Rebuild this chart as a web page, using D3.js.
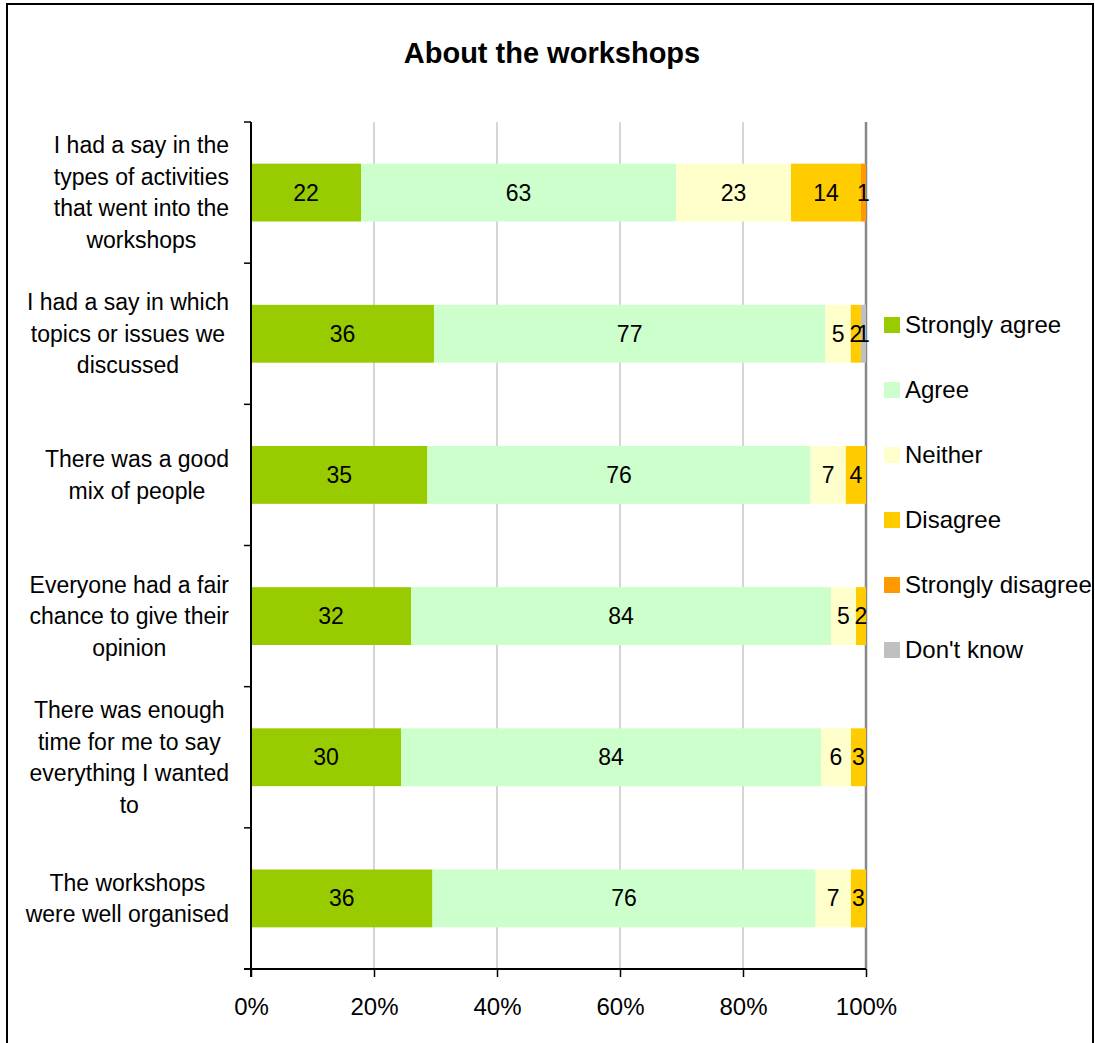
<!DOCTYPE html>
<html>
<head>
<meta charset="utf-8">
<script src="https://cdn.jsdelivr.net/npm/d3@7"></script>
<style>
  body { margin: 0; background: #fff; }
  text { font-family: "Liberation Sans", Arial, sans-serif; }
</style>
</head>
<body>
<svg id="chart" width="1095" height="1043"></svg>
<script>
const categories = [
   "I had a say in the|types of activities|that went into the|workshops",
   "I had a say in which|topics or issues we|discussed",
   "There was a good|mix of people",
   "Everyone had a fair|chance to give their|opinion",
   "There was enough|time for me to say|everything I wanted|to",
   "The workshops|were well organised"
];
const seriesNames = ["Strongly agree", "Agree", "Neither", "Disagree", "Strongly disagree", "Don't know"];
const stronglyAgree = [22, 36, 35, 32, 30, 36];
const agree = [63, 77, 76, 84, 84, 76];
const neither = [23, 5, 7, 5, 6, 7];
const disagree = [14, 2, 4, 2, 3, 3];
const stronglyDisagree = [1, 0, 0, 0, 0, 0];
const dontKnow = [0, 1, 0, 0, 0, 0];
const tickValues = [0, 0.2, 0.4, 0.6, 0.8, 1];
const colors = ["#99CC00", "#CCFFCC", "#FFFFCC", "#FFCC00", "#FF9900", "#C0C0C0"];

const seriesValues = [stronglyAgree, agree, neither, disagree, stronglyDisagree, dontKnow];
const rows = categories.map((c, i) => {
   const r = { cat: c };
   seriesNames.forEach((s, j) => (r[s] = seriesValues[j][i]));
   return r;
});

const plotLeft = 251, plotRight = 866, plotTop = 122, plotBottom = 969;
const fontSize = 23;
const svg = d3.select("#chart");

// outer frame
svg.append("rect")
   .attr("x", 7).attr("y", 4)
   .attr("width", 1086).attr("height", 1050)
   .attr("fill", "none").attr("stroke", "#000").attr("stroke-width", 2);

svg.append("text")
   .attr("x", 552).attr("y", 63)
   .attr("text-anchor", "middle")
   .attr("font-size", 29).attr("font-weight", "bold")
   .text("About the workshops");

const x = d3.scaleLinear().domain([0, 1]).range([plotLeft, plotRight]);
const y = d3.scaleBand().domain(categories).range([plotTop, plotBottom]).paddingInner(0.59).paddingOuter(0.295);
const yAxisBands = d3.scaleBand().domain(categories).range([plotTop, plotBottom]);

// gridlines
svg.append("g")
   .selectAll("line")
   .data(tickValues.slice(1))
   .enter()
   .append("line")
   .attr("x1", (d) => x(d)).attr("x2", (d) => x(d))
   .attr("y1", plotTop).attr("y2", plotBottom)
   .attr("stroke", (d) => (d === 1 ? "#888" : "#c0c0c0"))
   .attr("stroke-width", (d) => (d === 1 ? 2.5 : 1.3));

// stacked bars
const stack = d3.stack().keys(seriesNames).offset(d3.stackOffsetExpand);
const stacked = stack(rows);

const layers = svg.append("g")
   .selectAll("g")
   .data(stacked)
   .enter()
   .append("g")
   .attr("fill", (d, i) => colors[i]);

layers.selectAll("rect")
   .data((d) => d.filter((s) => s.data[d.key] > 0))
   .enter()
   .append("rect")
   .attr("x", (d) => x(d[0]))
   .attr("width", (d) => x(d[1]) - x(d[0]))
   .attr("y", (d) => y(d.data.cat))
   .attr("height", y.bandwidth());

layers.selectAll("text")
   .data((d) => d.filter((s) => s.data[d.key] > 0).map((s) => ({ s, key: d.key })))
   .enter()
   .append("text")
   .attr("x", (d) => (x(d.s[0]) + x(d.s[1])) / 2)
   .attr("y", (d) => y(d.s.data.cat) + y.bandwidth() / 2 + 8)
   .attr("text-anchor", "middle")
   .attr("font-size", fontSize)
   .attr("fill", "#000")
   .text((d) => d.s.data[d.key]);

// x axis
const xAxis = d3.axisBottom(x).tickValues(tickValues).tickFormat(d3.format(".0%")).tickSize(8).tickSizeOuter(0);
const gx = svg.append("g").attr("transform", `translate(0, ${plotBottom})`).call(xAxis);
gx.select(".domain").attr("stroke", "#000").attr("stroke-width", 2).attr("d", `M${plotLeft - 7},0H${plotRight}`);
gx.selectAll(".tick line").attr("stroke", "#000").attr("stroke-width", 1.5);
gx.selectAll(".tick text")
   .attr("font-size", fontSize + 1).attr("font-family", "Liberation Sans, Arial, sans-serif")
   .attr("fill", "#000").attr("y", 29);

// y axis line and ticks
const gy = svg.append("g");
gy.append("line")
   .attr("x1", plotLeft).attr("x2", plotLeft)
   .attr("y1", plotTop).attr("y2", plotBottom + 8)
   .attr("stroke", "#000").attr("stroke-width", 2);
gy.selectAll("line.tk")
   .data(categories)
   .enter()
   .append("line")
   .attr("class", "tk")
   .attr("x1", plotLeft - 7).attr("x2", plotLeft)
   .attr("y1", (d) => yAxisBands(d)).attr("y2", (d) => yAxisBands(d))
   .attr("stroke", "#000").attr("stroke-width", 1.5);

// category labels: lines centred on each other, longest line ends at 229
const lineH = 31.5;
gy.selectAll("text")
   .data(categories)
   .enter()
   .append("text")
   .attr("text-anchor", "middle")
   .attr("font-size", fontSize)
   .each(function (d) {
      const lines = d.split("|");
      const cy = y(d) + y.bandwidth() / 2;
      const start = cy - ((lines.length - 1) * lineH) / 2 + 8;
      const t = d3.select(this);
      const spans = t.selectAll("tspan")
         .data(lines)
         .enter()
         .append("tspan")
         .attr("y", (l, i) => start + i * lineH)
         .text((l) => l);
      const maxW = d3.max(spans.nodes(), (n) => n.getComputedTextLength());
      spans.attr("x", 229 - maxW / 2);
   });

// legend
const legend = svg.append("g")
   .selectAll("g")
   .data(seriesNames)
   .enter()
   .append("g")
   .attr("transform", (d, i) => `translate(884, ${325 + i * 65})`);

legend.append("rect")
   .attr("x", 0).attr("y", -8)
   .attr("width", 16).attr("height", 16)
   .attr("fill", (d, i) => colors[i]);

legend.append("text")
   .attr("x", 21).attr("y", 8)
   .attr("font-size", fontSize + 1)
   .text((d) => d);
</script>
</body>
</html>
